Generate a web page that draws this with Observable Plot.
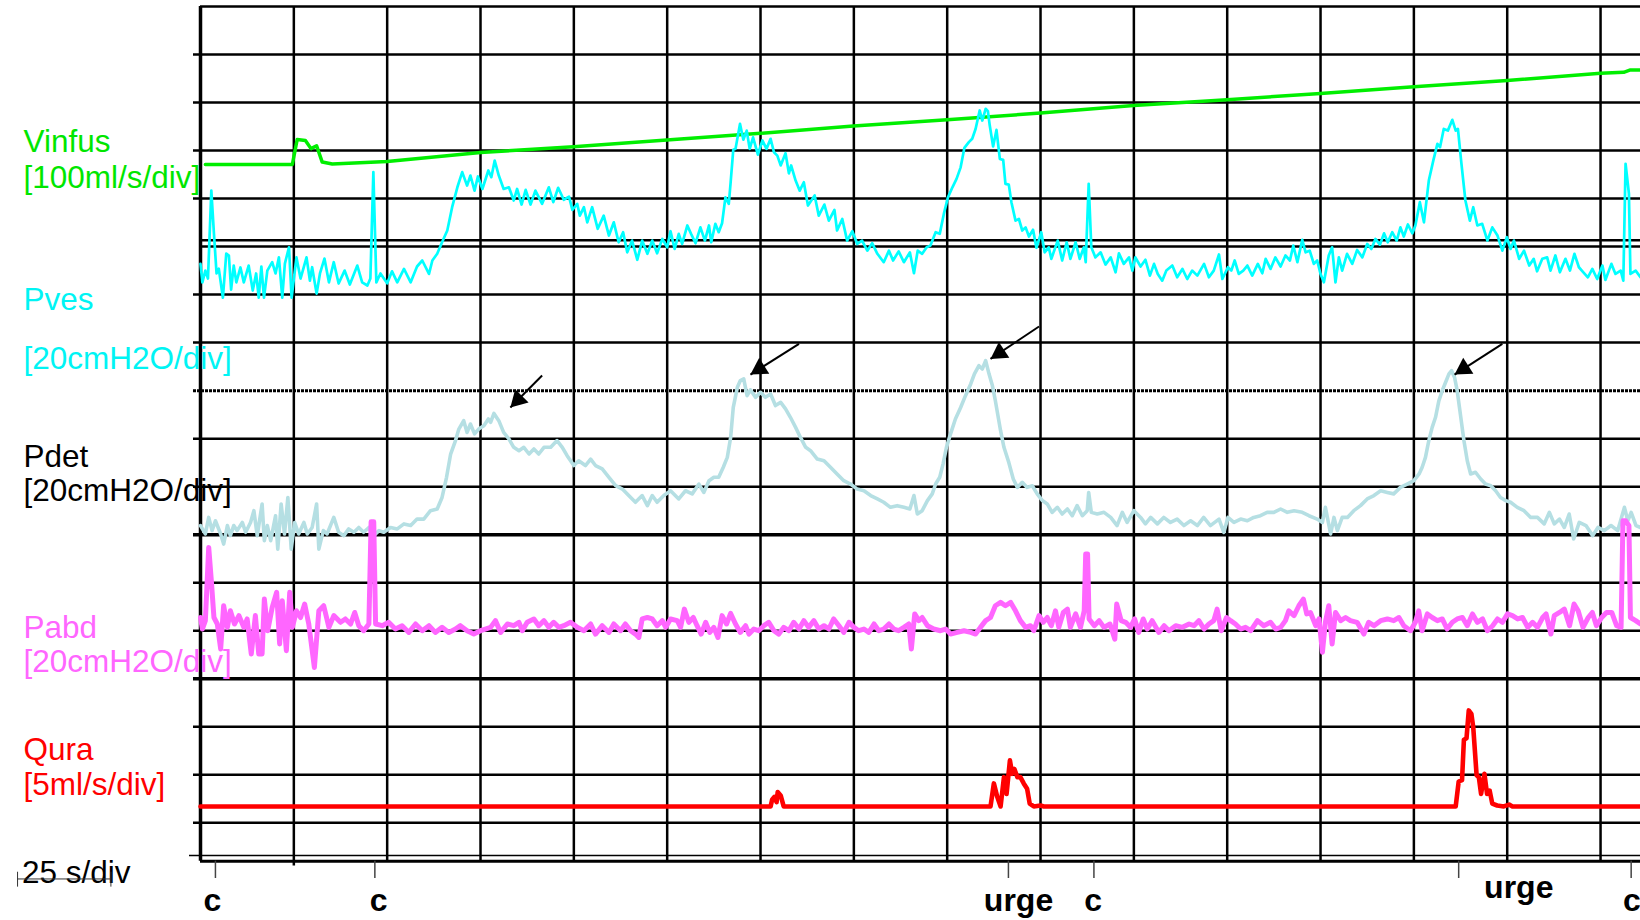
<!DOCTYPE html>
<html>
<head>
<meta charset="utf-8">
<script src="https://cdn.jsdelivr.net/npm/d3@7"></script>
<script src="https://cdn.jsdelivr.net/npm/@observablehq/plot@0.6"></script>
<style>
html,body{margin:0;padding:0;background:#fff;overflow:hidden}
#chart svg{display:block}
</style>
</head>
<body>
<div id="chart"></div>
<script>
// ---------- time axis: seconds (25 s per division) ----------
const T_END = 385.7;          // last visible second
const SEC_PER_DIV = 25;

// ---------- recorded traces: [time s, value] ----------
const vinfus = [[1.3,171],[24.6,171],[25.9,223],[28.1,221],[29.6,204],[31.1,210],[32.6,176],[35.3,172],[50,177],[75,196],[99.9,208],[128.6,224],[150,236],[174.9,251],[200,264],[225,278],[249.9,294],[275,306],[300,319],[325,333],[350,346],[375,361],[381.2,363],[383,368],[385.7,368]];

const pves = [[0,12.8],[0.5,5.1],[1.3,10.0],[2.0,6.7],[2.9,43.3],[3.6,25.4],[4.3,8.8],[4.9,10.8],[6.0,-1.3],[6.9,17.1],[7.6,16.3],[8.2,2.1],[8.9,12.1],[9.6,5.1],[10.7,11.3],[11.6,5.1],[12.9,12.1],[14.0,1.7],[14.9,8.8],[15.6,-1.3],[16.3,11.7],[17.0,-1.3],[17.9,10.0],[19.2,13.5],[20.1,8.8],[21.0,15.5],[21.9,-1.3],[22.6,12.9],[23.7,19.7],[24.4,-1.3],[25.7,15.5],[26.8,6.7],[28.4,15.5],[29.3,5.8],[29.9,11.4],[31.1,0.4],[32.0,8.8],[33.2,15.0],[34.4,5.1],[35.7,13.5],[37.0,4.6],[38.6,10.0],[40.0,4.2],[42.0,12.1],[43.3,5.1],[44.7,3.8],[45.5,6.7],[46.3,51.0],[47.1,5.1],[48.2,8.8],[50.0,4.7],[51.3,9.7],[52.7,5.1],[54.5,10.7],[56.3,5.1],[58.0,11.7],[59.4,14.2],[61.2,8.6],[62.1,14.2],[63.4,17.0],[64.7,21.8],[66.1,26.7],[67.4,36.4],[68.8,44.7],[70.1,51.0],[71.4,45.4],[72.3,49.6],[73.4,43.3],[74.3,49.2],[75.5,44.0],[77.1,51.7],[77.9,48.9],[78.8,55.8],[79.9,49.6],[81.2,44.0],[82.6,44.7],[83.9,39.2],[84.8,44.0],[86.0,37.5],[87.1,43.6],[88.4,37.5],[89.7,43.3],[91.5,37.8],[93.3,44.7],[94.5,38.5],[95.8,44.5],[97.3,39.5],[98.7,40.8],[99.6,35.3],[100.9,37.8],[101.6,32.9],[102.7,36.4],[103.6,30.1],[104.9,36.4],[106.4,27.4],[108.0,32.9],[109.4,24.6],[110.7,30.1],[112.0,21.8],[113.2,26.0],[114.3,17.6],[115.6,22.5],[117.0,14.5],[118.3,22.5],[119.7,17.0],[121.0,22.5],[122.3,17.2],[123.7,23.2],[125.0,19.7],[125.9,26.4],[127.0,19.0],[128.1,25.3],[129.0,21.1],[130.4,28.8],[131.4,25.3],[132.6,21.4],[133.9,28.0],[135.1,22.5],[136.2,28.8],[136.8,21.8],[137.9,29.5],[138.8,26.0],[139.7,29.7],[140.6,40.5],[141.5,37.8],[142.0,46.8],[142.7,60.3],[143.3,60.7],[144.5,71.1],[145.4,64.5],[146.3,68.3],[147.1,60.7],[148.0,65.5],[149.3,58.3],[150.5,64.2],[151.6,60.7],[152.7,64.9],[153.6,59.3],[154.5,57.9],[155.4,53.8],[156.7,58.9],[157.6,50.5],[158.2,53.8],[159.4,47.5],[160.5,43.3],[161.6,46.8],[162.7,37.1],[164.5,41.3],[165.6,32.9],[167.1,37.5],[168.3,30.8],[169.8,35.3],[170.5,26.7],[171.9,31.5],[173.2,22.5],[174.6,26.4],[175.9,21.1],[177.2,22.5],[178.6,18.3],[179.9,21.4],[181.3,17.0],[183.0,13.5],[184.4,18.3],[185.5,14.2],[187.0,18.0],[188.4,13.5],[190.0,17.6],[191.1,8.9],[192.1,18.3],[193.3,17.0],[194.5,19.7],[195.5,20.4],[196.9,26.0],[198.0,25.3],[199.1,33.6],[200.2,40.5],[201.4,44.7],[202.5,48.2],[203.6,53.0],[204.6,61.1],[205.8,63.5],[206.7,64.9],[207.6,69.0],[208.7,76.7],[209.4,72.5],[210.3,77.4],[210.9,76.4],[211.4,70.4],[212.3,61.7],[213.2,68.6],[214.1,56.5],[215.0,56.1],[215.6,46.1],[216.5,45.8],[217.2,38.5],[218.3,30.8],[219.2,31.5],[220.1,26.7],[221.0,28.0],[221.9,24.2],[223.0,27.0],[223.9,19.5],[225.2,26.0],[226.1,17.6],[227.2,19.7],[227.9,14.9],[229.6,22.5],[230.8,14.2],[232.0,21.8],[233.0,14.9],[234.4,21.8],[235.5,14.9],[236.6,19.7],[237.1,13.5],[237.9,46.1],[238.6,19.7],[239.7,15.5],[241.1,17.6],[242.4,12.5],[243.8,15.5],[245.1,9.3],[246.0,17.2],[247.3,12.8],[248.7,15.5],[249.6,10.0],[250.4,15.5],[251.8,11.7],[253.1,14.5],[254.3,7.9],[255.4,12.8],[256.4,8.6],[257.6,5.8],[258.7,10.0],[260.3,12.1],[261.6,7.2],[263.0,10.7],[264.3,6.5],[265.6,10.0],[267.0,7.9],[268.8,12.8],[270.1,7.2],[271.4,10.0],[272.8,16.7],[273.7,6.5],[275.2,11.4],[276.1,10.0],[277.0,14.2],[278.1,8.6],[279.3,10.0],[280.4,12.1],[281.7,7.9],[283.2,12.8],[284.4,8.9],[285.3,14.9],[286.6,10.7],[287.9,15.5],[289.3,11.7],[290.6,16.3],[291.8,14.2],[292.7,20.4],[293.8,13.5],[295.1,22.8],[296.0,17.6],[297.1,18.3],[298.2,12.8],[299.1,14.2],[300.0,8.6],[300.9,5.1],[302.2,16.3],[303.1,19.7],[304.0,5.1],[304.9,15.5],[305.8,10.0],[307.1,17.0],[308.5,12.8],[309.8,18.6],[311.2,15.5],[312.5,21.1],[313.6,19.0],[314.7,23.2],[315.9,20.8],[317.0,25.5],[318.0,21.8],[319.2,26.0],[320.4,22.5],[321.4,28.0],[322.3,24.2],[323.4,29.2],[324.6,25.5],[325.4,28.8],[326.6,38.5],[327.7,30.1],[329.0,47.5],[330.2,55.8],[331.3,62.8],[332.0,61.4],[333.0,69.0],[334.1,68.3],[335.3,72.8],[336.2,68.3],[336.8,69.0],[337.7,55.1],[338.8,39.2],[340.0,30.8],[340.9,36.4],[342.0,28.8],[343.3,29.5],[344.7,22.5],[346.0,28.0],[347.4,24.6],[348.7,18.3],[349.9,23.9],[350.9,19.0],[351.8,22.5],[353.2,14.9],[354.5,18.3],[355.9,12.1],[357.1,14.9],[358.0,9.7],[359.4,14.9],[360.7,15.5],[361.6,10.0],[362.9,16.3],[364.1,9.3],[365.6,14.9],[366.8,10.0],[368.0,17.0],[369.2,11.4],[370.4,9.3],[371.6,7.2],[372.8,10.7],[374.1,6.5],[375.5,12.1],[376.3,6.1],[377.9,12.8],[379.0,8.6],[380.4,10.0],[381.1,5.8],[381.7,54.5],[382.6,42.0],[383.0,8.6],[384.4,10.0],[385.7,7.2]];

const pdet = [[0,3.8],[1.3,0.3],[2.2,7.2],[3.1,1.7],[4.0,5.8],[5.4,0.3],[6.2,-3.9],[7.2,3.8],[8.0,-0.4],[8.9,3.8],[9.8,1.7],[11.2,5.1],[12.1,1.0],[13.4,5.1],[14.3,10.0],[15.2,-0.4],[16.5,12.8],[17.1,-2.5],[17.9,3.8],[18.8,-2.5],[20.1,7.9],[20.7,-6.0],[21.6,12.8],[22.5,0.3],[23.4,15.5],[24.3,-6.0],[25.2,5.1],[26.3,0.3],[27.7,5.1],[28.6,0.3],[29.9,3.0],[31.1,12.8],[31.7,-6.0],[32.9,1.7],[33.9,0.3],[35.7,7.2],[37.0,1.0],[38.4,-0.4],[39.7,2.4],[41.1,1.0],[42.4,3.0],[43.7,1.0],[45.1,3.0],[46.4,-0.4],[47.8,1.7],[49.1,1.0],[50.9,3.0],[52.7,2.4],[54.5,4.5],[56.3,3.8],[58.0,6.5],[59.8,6.5],[61.6,10.0],[63.4,10.7],[64.7,15.5],[65.9,23.9],[67.0,33.6],[68.3,39.2],[69.2,44.0],[70.5,47.5],[71.4,42.6],[72.3,46.1],[73.4,42.0],[74.5,44.0],[75.9,45.4],[77.1,48.2],[77.7,46.8],[78.6,50.5],[79.9,47.5],[81.2,42.6],[82.6,39.9],[83.9,36.4],[85.3,35.0],[86.6,36.4],[88.0,33.6],[89.3,35.7],[90.6,33.6],[92.0,36.4],[93.8,36.4],[95.5,39.2],[96.9,36.4],[98.2,32.9],[100.0,28.8],[101.3,30.8],[103.1,28.8],[104.5,31.5],[105.8,28.8],[107.6,27.4],[109.4,23.9],[111.2,20.4],[113.0,19.0],[114.7,16.3],[116.5,13.5],[118.3,16.3],[119.7,12.1],[121.0,16.3],[122.3,13.5],[124.1,16.3],[125.9,18.3],[128.1,14.9],[129.9,18.3],[131.7,17.0],[133.5,21.1],[134.8,17.6],[136.2,22.5],[137.5,23.9],[138.8,23.9],[140.0,28.0],[141.1,32.2],[142.0,40.5],[142.7,53.0],[143.8,61.4],[144.6,64.2],[145.5,64.9],[146.4,57.9],[147.3,60.3],[148.7,57.2],[150.0,59.3],[151.3,57.2],[152.7,58.6],[154.0,53.8],[155.4,55.1],[156.7,52.4],[158.0,48.9],[159.4,44.7],[160.7,40.5],[162.1,36.4],[163.4,35.0],[165.2,31.5],[167.0,30.8],[168.8,28.0],[170.5,25.3],[172.3,22.5],[174.1,21.1],[175.9,19.0],[177.7,18.3],[179.5,16.3],[181.3,14.9],[183.0,13.5],[184.8,11.4],[186.6,12.1],[188.4,11.4],[190.0,10.7],[191.1,16.3],[192.0,8.6],[193.3,10.0],[194.7,14.2],[196.0,17.0],[196.9,21.1],[198.0,23.9],[198.9,29.5],[199.8,36.4],[200.9,42.0],[202.2,48.2],[203.6,53.0],[204.9,57.9],[206.3,62.8],[207.3,67.0],[208.5,70.4],[209.4,69.0],[210.3,72.5],[211.2,67.0],[212.1,62.1],[212.9,55.8],[214.3,43.3],[215.2,36.4],[216.5,30.1],[217.7,23.2],[218.8,19.7],[220.1,21.8],[221.4,19.7],[222.8,20.4],[224.1,17.0],[225.5,14.2],[226.8,12.8],[228.1,9.3],[229.5,11.4],[230.8,8.6],[232.2,10.7],[233.5,7.9],[234.8,12.1],[236.2,7.9],[237.5,10.0],[237.9,17.6],[238.6,9.3],[240.2,8.6],[242.0,9.3],[243.8,7.2],[245.5,3.8],[246.9,9.3],[248.2,5.1],[250.0,10.0],[251.8,7.2],[253.1,4.5],[254.5,7.2],[256.3,4.5],[258.0,7.2],[259.8,5.1],[261.6,6.5],[263.4,3.8],[265.2,5.8],[267.0,3.8],[268.7,7.2],[270.5,3.8],[272.8,6.5],[274.1,1.0],[275.2,7.2],[276.8,5.1],[278.6,6.5],[280.4,5.8],[282.1,7.2],[283.9,7.9],[285.7,9.3],[287.5,9.3],[289.3,10.7],[291.1,9.3],[292.9,10.0],[295.1,9.3],[296.9,7.9],[299.1,6.5],[300.5,5.1],[301.3,11.4],[302.7,0.3],[303.6,7.2],[304.5,1.7],[305.8,7.2],[307.2,7.2],[308.9,10.0],[310.7,12.1],[312.5,14.9],[314.3,16.3],[316.1,18.3],[317.9,17.6],[319.6,17.0],[321.4,19.7],[323.2,21.1],[325.0,22.5],[326.4,25.3],[327.2,28.0],[328.1,32.2],[329.0,39.2],[329.9,44.7],[330.8,48.9],[331.7,55.8],[332.6,60.0],[333.5,63.5],[334.4,67.0],[335.1,68.3],[335.9,65.5],[336.6,60.0],[337.5,49.6],[338.4,39.2],[339.3,30.8],[340.2,25.3],[341.5,26.0],[342.9,23.2],[344.2,21.1],[345.6,20.4],[346.9,18.3],[348.2,15.5],[349.6,14.2],[350.9,13.5],[352.7,11.4],[354.5,10.0],[356.3,7.2],[358.1,7.2],[359.9,4.5],[361.3,9.3],[362.6,4.5],[364.0,6.5],[365.3,3.0],[366.6,8.6],[367.8,-1.8],[369.3,5.1],[371.1,3.8],[372.9,-0.4],[374.3,3.0],[376.0,1.7],[377.8,3.8],[379.6,1.7],[381.4,11.4],[382.3,5.8],[383.2,9.3],[384.5,3.8],[385.7,3.0]];

const pabd = [[0,5.5],[0.5,0.7],[1.3,4.2],[2.2,34.7],[2.9,20.8],[3.6,5.5],[4.5,2.8],[5.4,-7.6],[6.2,10.4],[7.2,1.4],[8.0,8.3],[9.1,2.8],[10.3,6.3],[11.6,1.4],[12.5,4.9],[13.6,-9.7],[14.7,6.3],[15.6,-9.7],[16.5,-9.7],[17.1,13.2],[18.0,0],[19.2,9.7],[20.4,16.0],[21.2,-5.5],[21.9,12.5],[23.0,-8.3],[23.9,16.0],[24.6,1.4],[25.7,8.3],[26.8,5.5],[27.9,11.1],[29.0,2.8],[30.5,-15.3],[31.7,8.3],[33.0,10.4],[34.4,1.4],[35.7,6.3],[37.5,3.5],[38.8,4.9],[40.2,2.8],[41.3,7.6],[42.4,2.1],[43.7,0],[45.1,2.8],[45.7,45.4],[46.4,45.4],[46.9,2.8],[48.7,2.1],[50.4,3.5],[52.2,0.7],[54.0,2.1],[55.8,-0.7],[57.6,2.8],[59.4,0],[61.2,2.1],[62.9,-0.7],[64.7,1.4],[66.5,-0.7],[68.3,0.7],[69.6,2.1],[71.4,0],[73.2,-1.4],[75.0,0],[76.3,0.7],[77.7,1.4],[79.0,4.2],[80.4,-0.7],[82.2,2.8],[83.9,2.1],[85.3,3.5],[86.2,0],[87.5,3.5],[89.3,4.9],[90.6,2.1],[92.0,4.2],[93.3,1.4],[94.6,3.5],[96.0,1.4],[97.3,2.1],[99.1,3.5],[100.9,1.4],[102.7,0],[104.5,2.8],[105.8,-1.4],[107.6,2.1],[109.4,-0.7],[110.7,2.8],[112.5,0],[113.8,2.8],[115.2,0],[116.5,-1.4],[117.4,-2.8],[118.3,4.9],[119.7,5.5],[121.0,4.9],[122.3,2.1],[123.7,4.2],[124.6,1.4],[125.9,4.9],[127.7,4.2],[128.6,1.4],[129.6,9.0],[130.8,3.5],[132.0,5.5],[133.0,2.1],[134.1,-1.4],[135.3,3.5],[136.4,-0.7],[137.5,1.4],[138.6,-2.8],[139.7,6.3],[140.9,2.8],[142.0,7.2],[143.3,2.8],[144.6,-0.7],[146.0,2.1],[146.9,-1.4],[148.2,0.7],[149.5,0],[150.9,2.1],[152.2,3.5],[153.6,0],[154.9,-1.4],[156.2,1.4],[157.6,0],[158.9,3.5],[160.3,0.7],[161.6,4.2],[162.9,1.4],[164.3,4.2],[165.6,0.7],[167.0,2.1],[168.3,0.7],[169.6,4.9],[171.0,2.1],[172.3,-0.7],[173.7,3.5],[175.0,1.4],[176.3,0],[177.7,0.7],[179.0,-0.7],[180.4,2.8],[181.7,0],[183.0,0.7],[184.4,2.8],[185.7,0.7],[187.0,0],[188.4,1.4],[189.7,2.8],[190.4,-7.6],[191.3,7.0],[192.4,4.2],[193.3,5.5],[194.7,2.1],[196.4,0.7],[198.2,0],[199.6,0.7],[200.9,-1.4],[202.7,-0.7],[204.5,0],[206.3,-0.7],[207.6,-1.4],[208.9,1.4],[210.3,4.2],[211.6,5.5],[212.9,10.4],[214.3,11.8],[215.6,10.4],[217.0,11.8],[218.3,8.3],[219.6,4.2],[221.0,1.4],[222.3,2.1],[223.2,0],[224.6,6.3],[225.7,3.5],[226.8,5.5],[227.9,2.1],[229.0,8.3],[229.9,1.4],[231.1,7.6],[232.2,9.0],[233.0,1.4],[234.4,7.0],[235.7,1.4],[236.7,8.3],[237.1,32.0],[237.6,32.0],[238.0,4.9],[239.4,2.1],[240.7,4.2],[242.0,1.4],[243.6,2.8],[244.9,-3.5],[245.4,11.1],[246.6,4.2],[247.8,3.5],[249.1,1.4],[250.2,4.9],[251.3,-0.7],[252.5,4.9],[253.6,0.7],[254.9,4.2],[256.7,-0.7],[258.1,2.1],[259.4,0],[261.2,2.1],[263.0,1.4],[264.8,2.8],[266.1,2.1],[267.4,4.2],[268.8,0.7],[270.1,2.8],[271.4,4.2],[272.3,9.0],[273.4,0],[274.8,5.5],[275.9,4.2],[277.2,2.8],[278.6,0.7],[279.9,1.4],[281.3,0],[283.1,4.2],[284.8,2.1],[286.6,3.5],[288.0,0.7],[289.3,1.4],[290.6,4.2],[291.5,8.3],[292.9,6.3],[294.2,10.4],[295.4,13.2],[296.3,7.0],[297.3,7.6],[298.7,2.1],[299.6,4.9],[300.5,-9.0],[301.3,3.5],[302.2,10.4],[303.1,-5.5],[304.0,7.6],[305.4,4.2],[306.7,5.5],[308.0,4.2],[309.8,3.5],[311.6,-1.4],[312.9,3.5],[314.3,2.1],[316.1,4.2],[317.9,4.9],[319.6,4.2],[321.0,5.5],[322.3,2.1],[324.1,0],[325.4,3.5],[326.3,8.3],[327.2,0],[328.6,7.0],[329.9,5.5],[331.3,4.2],[332.6,4.9],[333.9,0.7],[335.3,3.5],[336.6,4.9],[338.0,5.5],[339.3,2.1],[340.7,7.0],[342.0,3.5],[343.4,4.9],[344.7,0],[346.1,2.1],[347.4,4.9],[348.7,3.5],[350.1,7.0],[351.4,6.3],[352.8,4.9],[354.1,5.5],[355.5,1.4],[356.8,3.5],[358.1,1.4],[359.5,5.5],[360.4,7.0],[361.7,-1.4],[362.6,6.3],[364.0,7.6],[365.3,9.0],[366.7,2.1],[367.9,11.1],[369.0,8.3],[370.3,1.4],[371.7,5.5],[372.8,7.6],[373.9,2.1],[375.3,5.5],[376.6,7.6],[378.0,7.6],[379.3,2.1],[380.5,1.4],[381.0,45.8],[381.7,45.8],[382.6,43.8],[383.0,5.5],[384.4,4.2],[385.7,2.8]];

const qura = [[0,0],[152.7,0],[153.1,0.7],[153.7,1.0],[154.3,0.45],[154.6,1.5],[155.4,1.15],[156.2,0],[211.6,0],[212.5,2.4],[213.4,1.0],[214.3,0],[215.2,3.05],[215.9,1.3],[216.8,4.8],[217.4,3.4],[218.0,3.9],[218.8,3.05],[219.6,3.05],[220.5,2.4],[221.4,1.85],[222.1,0.3],[223.2,0],[225.0,0.1],[225.9,0],[336.2,0],[337.0,2.6],[337.9,2.75],[338.4,6.95],[339.1,7.1],[339.7,10.0],[340.4,9.65],[340.9,8.25],[341.8,3.25],[342.4,3.05],[343.0,1.3],[343.9,3.4],[344.6,1.3],[345.3,1.65],[346.0,0.3],[347.3,0.1],[349.1,0],[350.5,0.2],[351.4,0],[385.7,0]];

// ---------- event markers (c = cough, urge) ----------
const eventT = [4.0, 46.7, 216.4, 239.3, 337.0, 383.2];
const eventLabel = ["c", "c", "urge", "c", "urge", "c"];
const eventLabelT = [3.2, 47.7, 219.1, 239.1, 353.1, 383.4];
const eventLabelRow = [0, 0, 0, 0, 1, 0];

// ---------- arrows marking Pdet peaks: tip (t, cmH2O) and tail ----------
const arrowTipT = [83.0, 147.3, 211.6, 335.9];
const arrowTipP = [53.0, 66.7, 73.2, 66.7];
const arrowTailT = [91.5, 160.3, 224.6, 348.7];
const arrowTailP = [66.3, 79.5, 86.7, 79.5];

// ---------- channel labels ----------
const chanLabels = ["Vinfus", "[100ml/s/div]", "Pves", "[20cmH2O/div]", "Pdet", "[20cmH2O/div]", "Pabd", "[20cmH2O/div]", "Qura", "[5ml/s/div]"];
const chanLabelColors = ["#00e600", "#00e600", "#00f4f4", "#00f4f4", "#000000", "#000000", "#ff66ff", "#ff66ff", "#ff0000", "#ff0000"];
const chanLabelDiv = [13.96, 13.23, 10.67, 9.46, 7.40, 6.71, 3.84, 3.13, 1.30, 0.57];

// ---------- layout (grid divisions) ----------
const W = 1640, H = 920, ML = 200, MT = 6, MB = 59.3;
const Y_MIN = -0.8, Y_MAX = 17;
const PX_PER_S = (W - ML) / T_END;
const PX_PER_DIV = (H - MB - MT) / (Y_MAX - Y_MIN);
const FONT = "'Liberation Sans', Arial, Helvetica, sans-serif";

// channel zero position (in divisions) and units per division
const CH = {
  vinfus: {base: 12, per: 100},
  pves: {base: 11, per: 20},
  pdet: {base: 6, per: 20},
  pabd: {base: 4, per: 20},
  qura: {base: 0.34, per: 5}
};
const yOf = (ch) => (d) => CH[ch].base + d[1] / CH[ch].per;

// horizontal grid lines
const hTick = [0, 1, 2, 4, 5, 7, 8, 10, 11, 13, 14, 15, 16];
const hThick = [3, 6];
const hDotted = [9];
const hPlain = [12, 12.13, 17];
const vGrid = d3.range(0, T_END, SEC_PER_DIV);
const TICK_T = -7 / PX_PER_S;

// arrows
const arrows = arrowTipT.map((t, i) => {
  const y2 = CH.pdet.base + arrowTipP[i] / CH.pdet.per;
  const y1 = CH.pdet.base + arrowTailP[i] / CH.pdet.per;
  const dx = (t - arrowTailT[i]) * PX_PER_S;
  const dy = -(y2 - y1) * PX_PER_DIV;
  const L = Math.hypot(dx, dy), ux = dx / L, uy = dy / L;
  const r = 7;
  const back = 2 * Math.sqrt(Math.PI * r * r / (3 * Math.sqrt(3)));
  return {
    x1: arrowTailT[i], y1, x2: t, y2,
    cx: t - back * ux / PX_PER_S,
    cy: y2 + back * uy / PX_PER_DIV,
    angle: Math.atan2(ux, -uy) * 180 / Math.PI
  };
});

const events = eventT.map((t, i) => ({t, label: eventLabel[i], lt: eventLabelT[i], ly: eventLabelRow[i] ? -1.575 : -1.83}));
const chanLabelData = chanLabels.map((s, i) => ({s, c: chanLabelColors[i], y: chanLabelDiv[i]}));

const chart = Plot.plot({
  width: W, height: H,
  marginLeft: ML, marginRight: 0, marginTop: MT, marginBottom: MB,
  x: {domain: [0, T_END], axis: null},
  y: {domain: [Y_MIN, Y_MAX], axis: null},
  style: {background: "#fff", fontFamily: FONT, overflow: "visible"},
  marks: [
    // grid
    Plot.ruleY(hTick, {y: d => d, x1: () => TICK_T, x2: () => T_END, stroke: "#000", strokeWidth: 2.5}),
    Plot.ruleY(hThick, {y: d => d, x1: () => TICK_T, x2: () => T_END, stroke: "#000", strokeWidth: 3.5}),
    Plot.ruleY(hDotted, {y: d => d, x1: () => TICK_T, x2: () => T_END, stroke: "#000", strokeWidth: 3, strokeDasharray: "3,1"}),
    Plot.ruleY(hPlain, {y: d => d, x1: () => 0, x2: () => T_END, stroke: "#000", strokeWidth: 2.5}),
    Plot.ruleY([-0.68], {y: d => d, x1: () => -11 / PX_PER_S, x2: () => T_END, stroke: "#000", strokeWidth: 1.5}),
    Plot.ruleY([Y_MIN], {y: d => d, x1: () => 0, x2: () => T_END, stroke: "#000", strokeWidth: 3}),
    Plot.ruleX(vGrid, {x: d => d, y1: d => d === SEC_PER_DIV ? -0.9 : Y_MIN, y2: () => Y_MAX, stroke: "#000", strokeWidth: d => d === 0 ? 3.5 : 2.5}),
    // channel labels (left)
    Plot.text(chanLabelData, {x: () => -47.4, y: "y", text: "s", fill: "c", textAnchor: "start", lineAnchor: "bottom", fontSize: 31.5, fontFamily: FONT}),
    // traces
    Plot.line(vinfus, {x: d => d[0], y: yOf("vinfus"), stroke: "#00ee00", strokeWidth: 3.5, strokeLinejoin: "round"}),
    Plot.line(pves, {x: d => d[0], y: yOf("pves"), stroke: "#00ffff", strokeWidth: 2.7, strokeLinejoin: "round"}),
    Plot.line(pdet, {x: d => d[0], y: yOf("pdet"), stroke: "#b5dfe3", strokeWidth: 3.6, strokeLinejoin: "round"}),
    Plot.line(pabd, {x: d => d[0], y: yOf("pabd"), stroke: "#ff66ff", strokeWidth: 5, strokeLinejoin: "round"}),
    Plot.line(qura, {x: d => d[0], y: yOf("qura"), stroke: "#ff0000", strokeWidth: 4.6, strokeLinejoin: "round"}),
    // arrows to Pdet peaks
    Plot.link(arrows, {x1: "x1", y1: "y1", x2: "x2", y2: "y2", stroke: "#000", strokeWidth: 2}),
    Plot.dot(arrows, {x: "cx", y: "cy", symbol: "triangle", r: 7, fill: "#000", stroke: "none", rotate: "angle"}),
    // event markers
    Plot.ruleX(events, {x: "t", y1: () => Y_MIN, y2: () => -1.16, stroke: "#444", strokeWidth: 1.5}),
    Plot.text(events, {x: "lt", y: "ly", text: "label", textAnchor: "middle", lineAnchor: "bottom", fontSize: 32, fontWeight: "bold", fill: "#000", fontFamily: FONT}),
    // time scale
    Plot.text(["25 s/div"], {x: () => -47.8, y: () => -1.26, text: d => d, textAnchor: "start", lineAnchor: "bottom", fontSize: 31.5, fill: "#000", fontFamily: FONT}),
    Plot.ruleY([-1.17], {y: d => d, x1: () => -49, x2: () => -49 + SEC_PER_DIV, stroke: "#333", strokeWidth: 1}),
    Plot.ruleX([-49, -49 + SEC_PER_DIV], {x: d => d, y1: () => -1.03, y2: () => -1.34, stroke: "#333", strokeWidth: 1})
  ]
});
document.getElementById("chart").appendChild(chart);
</script>
</body>
</html>
